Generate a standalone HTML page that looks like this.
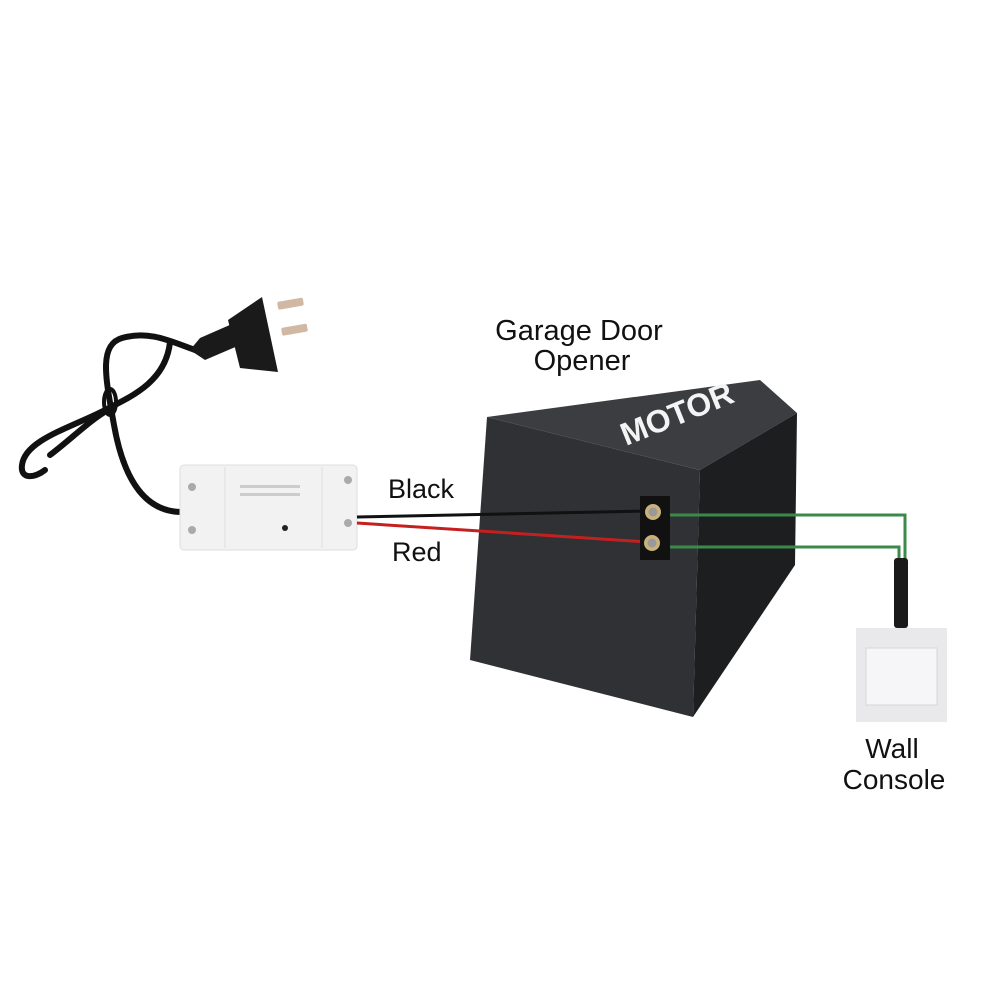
<!DOCTYPE html>
<html><head><meta charset="utf-8"><style>
html,body{margin:0;padding:0;background:#fff;width:1000px;height:1000px;overflow:hidden}
svg{display:block}
text{font-family:"Liberation Sans","DejaVu Sans",sans-serif;fill:#111}
</style></head><body>
<svg width="1000" height="1000" viewBox="0 0 1000 1000">
<!-- cord -->
<g fill="none" stroke="#111" stroke-width="6" stroke-linecap="round">
<path d="M182,512 C140,512 122,470 114,425 C106,380 98,345 122,338 C150,330 172,342 195,350"/>
<path d="M170,342 C166,380 135,395 105,410 C70,428 25,440 22,465 C20,480 35,478 45,470"/>
<path d="M108,410 C90,420 70,440 50,455"/>
</g>
<ellipse cx="110" cy="402" rx="6" ry="13" fill="none" stroke="#111" stroke-width="4"/>
<!-- plug -->
<path d="M190,350 L200,338 L232,324 L240,345 L205,360 Z" fill="#1a1a1a"/>
<path d="M228,320 L262,297 L278,372 L240,368 Z" fill="#1a1a1a"/>
<rect x="277" y="302" width="26" height="8" rx="2" fill="#d0b8a4" transform="rotate(-10 277 302)"/>
<rect x="281" y="328" width="26" height="8" rx="2" fill="#d0b8a4" transform="rotate(-10 281 328)"/>
<!-- relay module -->
<rect x="180" y="465" width="177" height="85" rx="4" fill="#f2f2f2" stroke="#ddd"/>
<line x1="225" y1="467" x2="225" y2="548" stroke="#ddd"/>
<line x1="322" y1="467" x2="322" y2="548" stroke="#ddd"/>
<circle cx="192" cy="487" r="4" fill="#aaa"/><circle cx="192" cy="530" r="4" fill="#aaa"/>
<circle cx="348" cy="480" r="4" fill="#aaa"/><circle cx="348" cy="523" r="4" fill="#aaa"/>
<circle cx="285" cy="528" r="3" fill="#222"/>
<rect x="240" y="485" width="60" height="3" fill="#ccc"/><rect x="240" y="493" width="60" height="3" fill="#ccc"/>
<!-- motor box -->
<polygon points="487,417 700,470 693,717 470,660" fill="#2f3134"/>
<polygon points="487,417 760,380 797,413 700,470" fill="#3b3d40"/>
<polygon points="700,470 797,413 795,565 693,717" fill="#1d1e20"/>
<text x="0" y="0" font-size="32" font-weight="bold" style="fill:#f4f4f4" transform="translate(626,446) rotate(-22)">MOTOR</text>
<!-- wires -->
<line x1="357" y1="517" x2="648" y2="511" stroke="#111" stroke-width="3"/>
<line x1="357" y1="523" x2="648" y2="542" stroke="#c42020" stroke-width="3"/>
<polyline points="665,515 905,515 905,560" fill="none" stroke="#3b8a4a" stroke-width="3"/>
<polyline points="665,547 899,547 899,560" fill="none" stroke="#3b8a4a" stroke-width="3"/>
<!-- terminals -->
<rect x="640" y="496" width="30" height="64" fill="#111"/>
<circle cx="653" cy="512" r="8" fill="#c9b27a"/><circle cx="653" cy="512" r="4.5" fill="#999"/>
<circle cx="652" cy="543" r="8" fill="#c9b27a"/><circle cx="652" cy="543" r="4.5" fill="#999"/>
<!-- wall console -->
<rect x="894" y="558" width="14" height="70" rx="3" fill="#1a1a1a"/>
<rect x="856" y="628" width="91" height="94" fill="#e9e9ec"/>
<rect x="866" y="648" width="71" height="57" fill="#f6f6f8" stroke="#d6d6da"/>
<!-- labels -->
<text x="579" y="340" font-size="29" text-anchor="middle">Garage Door</text>
<text x="582" y="370" font-size="29" text-anchor="middle">Opener</text>
<text x="388" y="498" font-size="27">Black</text>
<text x="392" y="561" font-size="27">Red</text>
<text x="892" y="758" font-size="28" text-anchor="middle">Wall</text>
<text x="894" y="789" font-size="28" text-anchor="middle">Console</text>
</svg>
</body></html>
